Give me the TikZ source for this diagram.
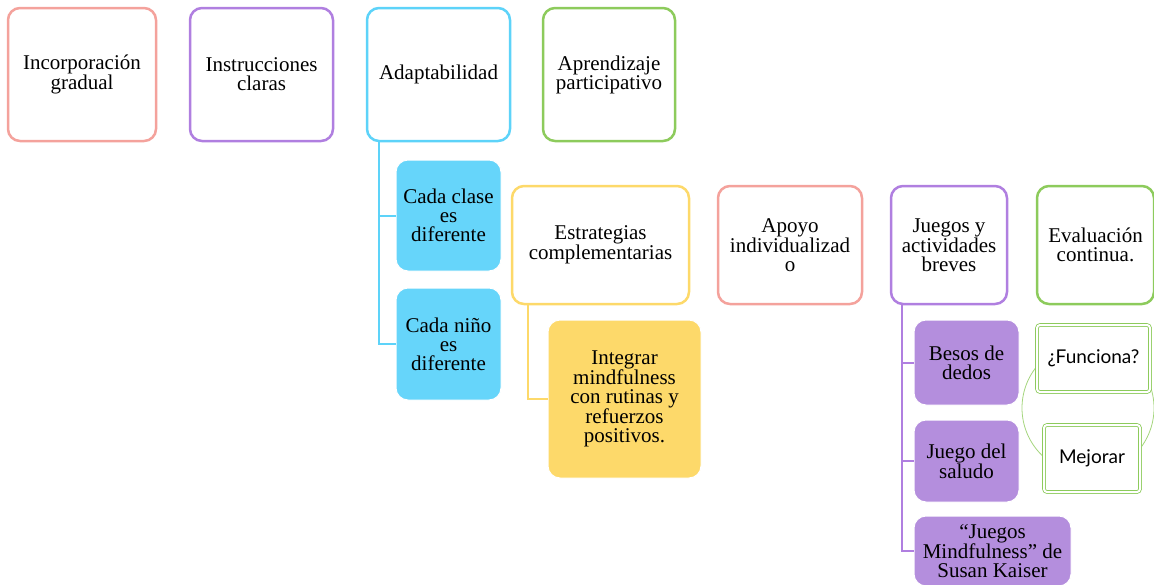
\documentclass[tikz,border=0pt]{standalone}
\usepackage{fontspec}
\setmainfont{Liberation Serif}
\newfontfamily\manoletra{Lato}
\definecolor{salmon}{HTML}{F4A29C}
\definecolor{lila}{HTML}{B07FE0}
\definecolor{lilafill}{HTML}{B48EDD}
\definecolor{celeste}{HTML}{5DD3F9}
\definecolor{celestefill}{HTML}{66D5FA}
\definecolor{verde}{HTML}{8DCB5C}
\definecolor{amarillo}{HTML}{FDD96A}
\begin{document}
\begin{tikzpicture}[x=1pt,y=-1pt,
        caja/.style={draw=#1,line width=2.5pt,rounded corners=12pt,fill=white,
            align=center,inner sep=0pt,font=\fontsize{21}{19}\selectfont},
        relleno/.style={draw=white,line width=1pt,rounded corners=12pt,fill=#1,
            align=center,inner sep=0pt,font=\fontsize{21}{19}\selectfont},
        ciclo/.style={draw=verde,line width=0.8pt,double=white,double distance=2pt,
            rounded corners=3pt,fill=white,inner sep=0pt,font=\manoletra\fontsize{19}{22}\selectfont},
        rama/.style={draw=#1,line width=2pt}]
        \useasboundingbox (0,0) rectangle (1154,584);

        % Top row
        \node[caja=salmon,minimum width=148,minimum height=133] (inc) at (82,74.5) {Incorporación\\gradual};
        \node[caja=lila,minimum width=143,minimum height=133] (ins) at (261.5,74.5) {Instrucciones\\claras};
        \node[caja=celeste,minimum width=143,minimum height=133] (ada) at (438.5,74.5) {Adaptabilidad};
        \node[caja=verde,minimum width=132,minimum height=133] (apr) at (609,74.5) {Aprendizaje\\participativo};

        % Children of Adaptabilidad
        \node[relleno=celestefill,minimum width=105,minimum height=111] (clase) at (448.5,215.5) {Cada clase\\es\\diferente};
        \node[relleno=celestefill,minimum width=105,minimum height=112] (nino) at (448.5,344) {Cada niño\\es\\diferente};
        \draw[rama=celeste] ([xshift=13pt]ada.south west) |- (clase.west);
        \draw[rama=celeste] ([xshift=13pt]ada.south west) |- (nino.west);

        % Second row
        \node[caja=amarillo,minimum width=177,minimum height=118] (est) at (600.5,245) {Estrategias\\complementarias};
        \node[caja=salmon,minimum width=144,minimum height=118] (apo) at (790,245) {Apoyo\\individualizad\\o};
        \node[caja=lila,minimum width=116,minimum height=118] (jue) at (949,245) {Juegos y\\actividades\\breves};
        \node[caja=verde,minimum width=117,minimum height=118] (eva) at (1095.5,245) {Evaluación\\continua.};

        % Child of Estrategias
        \node[relleno=amarillo,minimum width=153,minimum height=158] (integ) at (624.5,399) {Integrar\\mindfulness\\con rutinas y\\refuerzos\\positivos.};
        \draw[rama=amarillo] ([xshift=17pt]est.south west) |- (integ.west);

        % Children of Juegos
        \node[relleno=lilafill,minimum width=105,minimum height=85] (besos) at (966.5,362.5) {Besos de\\dedos};
        \node[relleno=lilafill,minimum width=105,minimum height=82] (saludo) at (966.5,461) {Juego del\\saludo};
        \node[relleno=lilafill,minimum width=157,minimum height=70] (kaiser) at (992.5,551) {“Juegos\\Mindfulness” de\\Susan Kaiser};
        \draw[rama=lila] ([xshift=12pt]jue.south west) |- (besos.west);
        \draw[rama=lila] ([xshift=12pt]jue.south west) |- (saludo.west);
        \draw[rama=lila] ([xshift=12pt]jue.south west) |- (kaiser.west);

        % Cycle under Evaluacion
        \draw[verde!80,line width=0.8pt] (1088,408) circle (66);
        \node[ciclo,minimum width=113,minimum height=67] (fun) at (1093.5,358.5) {¿Funciona?};
        \node[ciclo,minimum width=96,minimum height=67] (mej) at (1092,458.5) {Mejorar};
\end{tikzpicture}
\end{document}
